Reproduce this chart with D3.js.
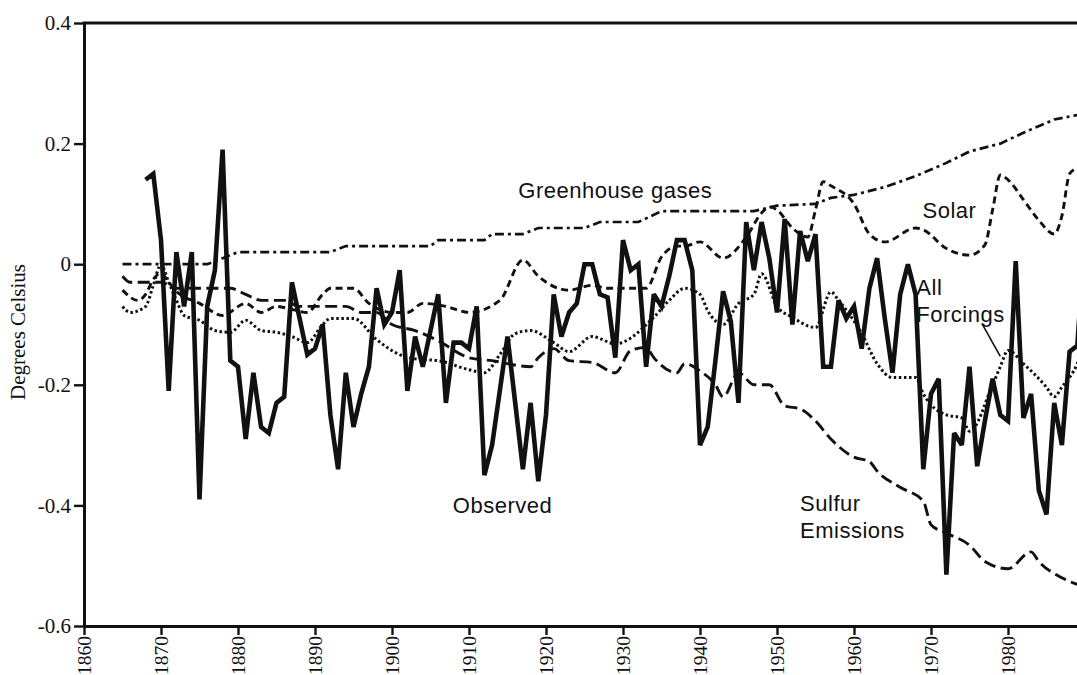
<!DOCTYPE html>
<html>
<head>
<meta charset="utf-8">
<script src="https://cdn.jsdelivr.net/npm/d3@7"></script>
<style>
  body { margin: 0; background: #fff; }
  svg { display: block; }
</style>
</head>
<body>
<svg></svg>
<script>
var width = 1077;
var height = 675;
var plotLeft = 84, plotRight = 1085, plotTop = 23, plotBottom = 626;

// axis ticks
var yearTicks = [1860, 1870, 1880, 1890, 1900, 1910, 1920, 1930, 1940, 1950, 1960, 1970, 1980, 1990];
var valueTicks = [-0.6, -0.4, -0.2, 0, 0.2, 0.4];

// observed annual anomaly, first year 1868
var observedStart = 1868;
var observed = [
  0.14, 0.15, 0.04, -0.21, 0.02, -0.07, 0.02, -0.39, -0.07, -0.01,
  0.19, -0.16, -0.17, -0.29, -0.18, -0.27, -0.28, -0.23, -0.22, -0.03,
  -0.09, -0.15, -0.14, -0.10, -0.25, -0.34, -0.18, -0.27, -0.215, -0.17,
  -0.04, -0.10, -0.08, -0.01, -0.21, -0.12, -0.17, -0.11, -0.05, -0.23,
  -0.13, -0.13, -0.14, -0.07, -0.35, -0.30, -0.21, -0.12, -0.23, -0.34,
  -0.23, -0.36, -0.25, -0.05, -0.12, -0.08, -0.065, 0.0, 0.0, -0.05,
  -0.055, -0.155, 0.04, -0.01, 0.0, -0.17, -0.05, -0.07, -0.02, 0.04,
  0.04, -0.01, -0.30, -0.27, -0.16, -0.045, -0.095, -0.23, 0.07, -0.01,
  0.07, 0.01, -0.08, 0.075, -0.10, 0.055, 0.005, 0.05, -0.17, -0.17,
  -0.06, -0.09, -0.07, -0.14, -0.04, 0.01, -0.09, -0.18, -0.05, 0.0,
  -0.05, -0.34, -0.215, -0.19, -0.515, -0.28, -0.30, -0.17, -0.335, -0.26,
  -0.19, -0.25, -0.26, 0.005, -0.255, -0.215, -0.375, -0.415, -0.23, -0.30,
  -0.145, -0.135, 0.05
];

// greenhouse gases (dash-dot)
var ghgYears = [1865, 1876, 1878, 1880, 1892, 1894, 1905, 1906, 1912, 1913, 1917, 1919, 1925, 1927, 1932, 1935, 1947, 1950, 1955, 1957, 1960, 1964, 1968, 1972, 1975, 1979, 1982, 1986, 1990];
var ghgValues = [0, 0, 0.01, 0.02, 0.02, 0.03, 0.03, 0.04, 0.04, 0.05, 0.05, 0.06, 0.06, 0.07, 0.07, 0.088, 0.088, 0.097, 0.10, 0.11, 0.115, 0.128, 0.146, 0.168, 0.187, 0.20, 0.218, 0.24, 0.25];

// solar (short dashes)
var solarYears = [1865, 1867, 1868, 1869, 1870, 1871, 1872, 1875, 1878, 1881, 1883, 1885, 1887, 1889, 1891, 1892, 1895, 1897, 1900, 1902, 1904, 1907, 1910, 1914, 1917, 1919, 1923, 1926, 1928, 1933, 1935, 1937, 1938, 1940, 1943, 1946, 1948, 1949, 1950, 1952, 1954, 1955, 1956, 1957, 1960, 1962, 1964, 1968, 1969, 1972, 1975, 1977, 1978, 1979, 1980, 1982, 1984, 1986, 1987, 1988, 1989, 1990];
var solarValues = [-0.043, -0.06, -0.05, -0.025, -0.015, -0.03, -0.045, -0.065, -0.085, -0.065, -0.08, -0.07, -0.075, -0.08, -0.05, -0.04, -0.04, -0.065, -0.08, -0.08, -0.065, -0.07, -0.08, -0.06, 0.007, -0.02, -0.043, -0.035, -0.04, -0.04, 0.012, 0.03, 0.03, 0.037, 0.01, 0.045, 0.085, 0.095, 0.09, 0.06, 0.045, 0.09, 0.137, 0.13, 0.10, 0.05, 0.037, 0.06, 0.057, 0.026, 0.015, 0.032, 0.09, 0.148, 0.14, 0.107, 0.073, 0.05, 0.08, 0.15, 0.16, 0.17];

// sulfur emissions (long dashes)
var sulfurYears = [1865, 1866, 1870, 1872, 1879, 1881, 1883, 1886, 1888, 1894, 1896, 1898, 1900, 1903, 1906, 1910, 1913, 1918, 1919, 1921, 1923, 1926, 1929, 1931, 1933, 1934, 1937, 1938, 1940, 1942, 1943, 1945, 1947, 1949, 1951, 1953, 1955, 1957, 1960, 1962, 1963, 1966, 1969, 1970, 1972, 1975, 1977, 1980, 1983, 1984, 1987, 1990];
var sulfurValues = [-0.02, -0.03, -0.03, -0.04, -0.04, -0.05, -0.06, -0.06, -0.07, -0.07, -0.08, -0.08, -0.10, -0.11, -0.127, -0.155, -0.16, -0.17, -0.155, -0.14, -0.16, -0.163, -0.18, -0.143, -0.138, -0.155, -0.18, -0.165, -0.177, -0.2, -0.22, -0.18, -0.2, -0.2, -0.235, -0.24, -0.26, -0.29, -0.32, -0.327, -0.343, -0.37, -0.393, -0.432, -0.446, -0.466, -0.493, -0.505, -0.477, -0.493, -0.52, -0.535];

// all forcings (dotted)
var allYears = [1865, 1866, 1868, 1869, 1870, 1871, 1872, 1873, 1875, 1877, 1879, 1881, 1883, 1885, 1887, 1889, 1891, 1892, 1895, 1898, 1901, 1903, 1906, 1910, 1912, 1914, 1916, 1918, 1921, 1923, 1926, 1929, 1934, 1936, 1938, 1940, 1941, 1943, 1945, 1947, 1948, 1950, 1952, 1955, 1957, 1958, 1961, 1963, 1965, 1968, 1969, 1972, 1974, 1975, 1978, 1979, 1980, 1982, 1985, 1986, 1987, 1989, 1990];
var allValues = [-0.07, -0.08, -0.07, -0.035, 0.0, -0.03, -0.06, -0.085, -0.093, -0.11, -0.113, -0.093, -0.11, -0.113, -0.12, -0.13, -0.10, -0.09, -0.09, -0.125, -0.15, -0.157, -0.16, -0.175, -0.18, -0.15, -0.115, -0.11, -0.13, -0.145, -0.12, -0.132, -0.088, -0.06, -0.04, -0.05, -0.077, -0.10, -0.065, -0.05, -0.016, -0.07, -0.088, -0.105, -0.046, -0.06, -0.115, -0.165, -0.188, -0.188, -0.215, -0.25, -0.255, -0.277, -0.2, -0.17, -0.143, -0.165, -0.204, -0.22, -0.204, -0.165, -0.13];

// text labels, placed in data units
var labels = [
  { lines: ["Greenhouse gases"], year: 1916.4, value: 0.109 },
  { lines: ["Solar"], year: 1968.9, value: 0.076 },
  { lines: ["All", "Forcings"], year: 1968.1, value: -0.051 },
  { lines: ["Sulfur", "Emissions"], year: 1953.0, value: -0.41 },
  { lines: ["Observed"], year: 1907.9, value: -0.413 }
];
var leader = [[1976.6, -0.098], [1979.0, -0.153]];

function pairs(years, values) {
  return years.map((y, i) => [y, values[i]]);
}

var xScale = d3.scaleLinear()
  .domain([1860, 1990])
  .range([plotLeft, plotRight]);

var yScale = d3.scaleLinear()
  .domain([-0.6, 0.4])
  .range([plotBottom, plotTop]);

var svg = d3.select('svg')
  .attr('width', width)
  .attr('height', height);

var straight = d3.line()
  .x(d => xScale(d[0]))
  .y(d => yScale(d[1]));

var smooth = d3.line()
  .x(d => xScale(d[0]))
  .y(d => yScale(d[1]))
  .curve(d3.curveMonotoneX);

var series = [
  { data: pairs(ghgYears, ghgValues), line: straight, dash: '9,4,3,4', w: 2.7 },
  { data: pairs(solarYears, solarValues), line: smooth, dash: '7,4.5', w: 2.9 },
  { data: pairs(sulfurYears, sulfurValues), line: smooth, dash: '12,5.5', w: 2.9 },
  { data: pairs(allYears, allValues), line: smooth, dash: '2.5,2.6', w: 3 }
];

svg.selectAll('path.model')
  .data(series)
  .enter()
  .append('path')
    .attr('class', 'model')
    .attr('d', d => d.line(d.data))
    .attr('fill', 'none')
    .attr('stroke', '#111')
    .attr('stroke-width', d => d.w)
    .attr('stroke-dasharray', d => d.dash);

svg.append('path')
  .datum(observed.map((v, i) => [observedStart + i, v]))
  .attr('d', straight)
  .attr('fill', 'none')
  .attr('stroke', '#111')
  .attr('stroke-width', 4.6)
  .attr('stroke-linejoin', 'miter')
  .attr('stroke-miterlimit', 3);

// axes
var xAxis = d3.axisBottom(xScale)
  .tickValues(yearTicks)
  .tickFormat(d3.format('d'))
  .tickSize(9)
  .tickSizeOuter(0)
  .tickPadding(1);

var yAxis = d3.axisLeft(yScale)
  .tickValues(valueTicks)
  .tickFormat(d => String(d))
  .tickSize(10)
  .tickSizeOuter(0)
  .tickPadding(3);

var gx = svg.append('g')
  .attr('transform', 'translate(0,' + plotBottom + ')')
  .call(xAxis);

var gy = svg.append('g')
  .attr('transform', 'translate(' + plotLeft + ',0)')
  .call(yAxis);

svg.selectAll('.domain')
  .attr('stroke', '#111')
  .attr('stroke-width', 3);
svg.selectAll('.tick line')
  .attr('stroke', '#111')
  .attr('stroke-width', 2.4);
svg.selectAll('.tick text')
  .attr('fill', '#111')
  .style('font-family', '"Liberation Serif", "Times New Roman", serif');

gy.selectAll('text')
  .style('font-size', '21px');

gx.selectAll('text')
  .attr('transform', 'rotate(-90)')
  .attr('x', -10)
  .attr('y', 0)
  .attr('dy', '0.33em')
  .style('text-anchor', 'end')
  .style('font-size', '19.5px');

// top frame
svg.append('line')
  .attr('x1', plotLeft - 1.5)
  .attr('x2', width)
  .attr('y1', yScale(0.4))
  .attr('y2', yScale(0.4))
  .attr('stroke', '#111')
  .attr('stroke-width', 3);

svg.append('text')
  .attr('transform', 'translate(25,332) rotate(-90)')
  .style('text-anchor', 'middle')
  .style('font-family', '"Liberation Serif", "Times New Roman", serif')
  .style('font-size', '21px')
  .attr('fill', '#111')
  .text('Degrees Celsius');

// annotations
var notes = svg.selectAll('text.note')
  .data(labels)
  .enter()
  .append('text')
    .attr('class', 'note')
    .attr('x', d => xScale(d.year))
    .attr('y', d => yScale(d.value))
    .attr('fill', '#111')
    .style('font-family', '"Liberation Sans", Arial, sans-serif')
    .style('font-size', '22px')
    .style('letter-spacing', '0.5px');

notes.selectAll('tspan')
  .data(d => d.lines.map((t, i) => ({ t: t, i: i, year: d.year })))
  .enter()
  .append('tspan')
    .attr('x', d => xScale(d.year))
    .attr('dy', d => d.i === 0 ? 0 : 26.7)
    .text(d => d.t);

svg.append('path')
  .datum(leader)
  .attr('d', straight)
  .attr('stroke', '#111')
  .attr('stroke-width', 1.6)
  .attr('fill', 'none');
</script>
</body>
</html>
